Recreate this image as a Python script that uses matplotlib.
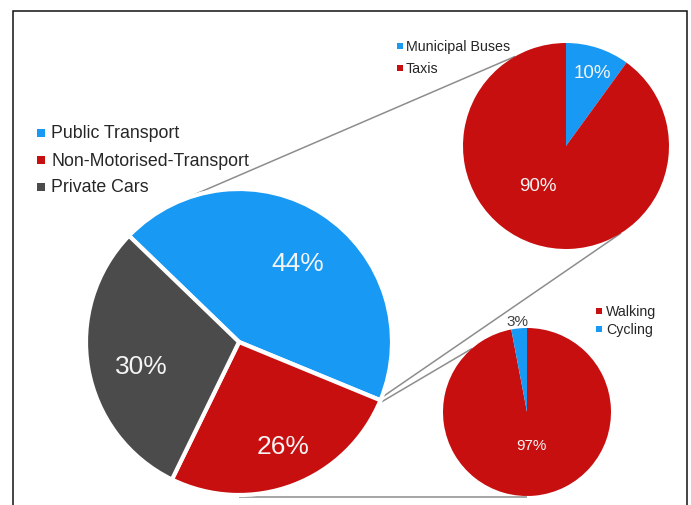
import numpy as np
import matplotlib
matplotlib.use("Agg")
import matplotlib.pyplot as plt
from matplotlib.patches import Rectangle

plt.rcParams['font.family'] = ['Liberation Sans', 'DejaVu Sans']

# ---- data ----
modes = ["Public Transport", "Non-Motorised-Transport", "Private Cars"]
mode_share = [44, 26, 30]

public_types = ["Municipal Buses", "Taxis"]
public_share = [10, 90]

nonmotor_types = ["Walking", "Cycling"]
nonmotor_share = [97, 3]

# ---- style ----
BLUE = "#1799f4"
RED = "#c80f10"
GREY = "#4b4b4b"
LINE = "#8d8d8d"
TXT = "#262626"

W, H = 691, 506
fig = plt.figure(figsize=(W / 100, H / 100), dpi=100)
ax = fig.add_axes([0, 0, 1, 1])


def P(px, py):
    """Pixel position (origin top-left) to axes data coordinates."""
    return (px, H - py)


def rim(center, r, ang):
    a = np.deg2rad(ang)
    return (center[0] + r * np.cos(a), center[1] + r * np.sin(a))


main_c, main_r = P(239, 343), 153
top_c, top_r = P(566, 147), 103
bot_c, bot_r = P(527, 413), 84

# connector lines (behind the pies)
connectors = [
    (rim(main_c, main_r, 113.5), rim(top_c, top_r, 119.5)),
    (rim(main_c, main_r, -21.3), rim(top_c, top_r, -57.7)),
    (rim(main_c, main_r, -23.6), rim(bot_c, bot_r, 131)),
    ((main_c[0], H - 497.5), (bot_c[0], H - 497.5)),
]
for (x0, y0), (x1, y1) in connectors:
    ax.plot([x0, x1], [y0, y1], color=LINE, lw=1.1, zorder=1,
            solid_capstyle="butt")

# main pie
main_w, _ = ax.pie(mode_share, colors=[BLUE, RED, GREY], startangle=136,
                   counterclock=False, center=main_c, radius=main_r,
                   wedgeprops=dict(edgecolor="white", linewidth=3))
# public transport breakdown
top_w, _ = ax.pie(public_share, colors=[BLUE, RED], startangle=90,
                  counterclock=False, center=top_c, radius=top_r,
                  wedgeprops=dict(edgecolor="none"))
# non-motorised breakdown
bot_w, _ = ax.pie(nonmotor_share, colors=[RED, BLUE], startangle=90,
                  counterclock=False, center=bot_c, radius=bot_r,
                  wedgeprops=dict(edgecolor="none"))
for w in list(main_w) + list(top_w) + list(bot_w):
    w.set_zorder(2)


def pct_labels(wedges, values, center, r, factors, offsets, size, colors):
    for w, v, f, off, col in zip(wedges, values, factors, offsets, colors):
        mid = 0.5 * (w.theta1 + w.theta2) + off
        x, y = rim(center, r * f, mid)
        ax.text(x, y, f"{v}%", ha="center", va="center", fontsize=size,
                color=col, zorder=5)


pct_labels(main_w, mode_share, main_c, main_r,
           [0.64, 0.74, 0.66], [-3.4, 2.0, 4.0], 19,
           ["#f4f4f4"] * 3)
pct_labels(top_w, public_share, top_c, top_r,
           [0.76, 0.47], [-1.4, -17.0], 13.5, ["#f4f4f4"] * 2)
pct_labels(bot_w, nonmotor_share, bot_c, bot_r,
           [0.40, 1.09], [3.0, 0.6], 11, ["#f4f4f4", "#404040"])


def legend(labels, colors, x_sq, x_txt, y0, dy, sq, size):
    for i, (lab, col) in enumerate(zip(labels, colors)):
        cx, cy = P(x_sq, y0 + i * dy)
        ax.add_patch(Rectangle((cx - sq / 2, cy - sq / 2), sq, sq,
                               facecolor=col, edgecolor="none", zorder=5))
        tx, ty = P(x_txt, y0 + i * dy)
        ax.text(tx, ty, lab, ha="left", va="center", fontsize=size,
                color=TXT, zorder=5)


legend(modes, [BLUE, RED, GREY], 41, 51, 134, 27, 7.5, 12.8)
legend(public_types, [BLUE, RED], 400, 406, 47, 22, 6, 10.3)
legend(nonmotor_types, [RED, BLUE], 599.5, 606, 312, 18, 6, 10.2)

# outer frame
fx0, fx1 = 13, 687
fy0 = 12
ax.plot([fx0, fx0, fx1, fx1], [-10, H - fy0, H - fy0, -10],
        color="#111111", lw=1.1, zorder=6, solid_joinstyle="miter")

ax.set_xlim(0, W)
ax.set_ylim(0, H)
ax.set_aspect("equal")
ax.axis("off")

fig.savefig("out.png", dpi=100, facecolor="white")
